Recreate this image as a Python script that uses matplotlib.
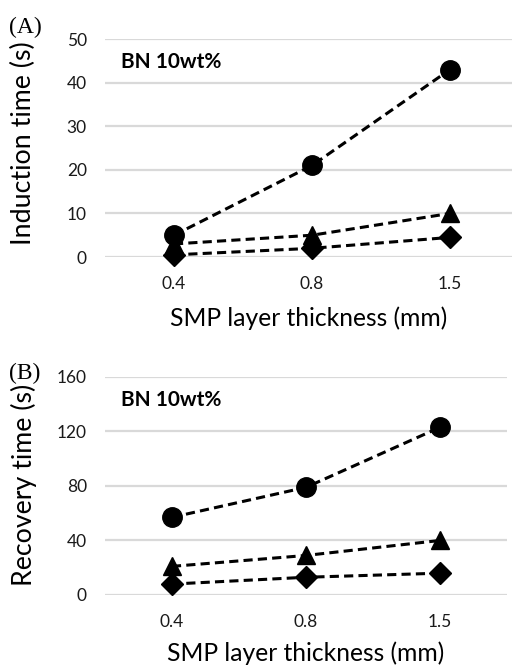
import numpy as np
import matplotlib
matplotlib.use("Agg")
import matplotlib.pyplot as plt

# data
thickness = ["0.4", "0.8", "1.5"]

induction_circle = [5, 21, 43]
induction_triangle = [3, 5, 10]
induction_diamond = [0.5, 2, 4.5]

recovery_circle = [57, 79, 123]
recovery_triangle = [21, 29, 40]
recovery_diamond = [8, 13, 16]

plt.rcParams['font.family'] = ['Lato', 'DejaVu Sans']

fig = plt.figure(figsize=(5.12, 6.65), dpi=100)

def draw_panel(ax, series, yticks, ylabel, ylabel_y, letter, letter_y, xlim, xlabelpad):
    x = np.arange(len(thickness))
    for vals, mk, ms in series:
        ax.plot(x, vals, color='black', lw=2.2, ls=(0, (3.0, 1.7)),
                marker=mk, markersize=ms, clip_on=False, zorder=3)
    ax.set_xlim(*xlim)
    ax.set_ylim(yticks[0], yticks[-1])
    ax.set_yticks(yticks)
    ax.set_xticks(x)
    ax.set_xticklabels(thickness)
    ax.grid(axis='y', color='#d9d9d9', lw=1.6)
    ax.set_axisbelow(True)
    for s in ax.spines.values():
        s.set_visible(False)
    ax.tick_params(length=0, labelsize=12.5, colors='#1a1a1a')
    ax.tick_params(axis='y', pad=13)
    ax.tick_params(axis='x', pad=14)
    ax.set_ylabel(ylabel, fontsize=19.3)
    ax.yaxis.set_label_coords(-0.17, ylabel_y)
    ax.set_xlabel("SMP layer thickness (mm)", fontsize=17.7, labelpad=xlabelpad)
    ax.text(0.04, 0.865, "BN 10wt%", transform=ax.transAxes, fontsize=15,
            fontweight='bold')
    fig.text(0.018, letter_y, letter, family='Liberation Serif',
             fontsize=17, va='center')

ax1 = fig.add_axes([0.205, 0.6135, 0.795, 0.3278])
draw_panel(ax1,
           [(induction_circle, 'o', 14), (induction_triangle, '^', 13),
            (induction_diamond, 'D', 11)],
           [0, 10, 20, 30, 40, 50], "Induction time (s)", 0.523, "(A)", 0.958,
           (-0.5, 2.449), 10)

ax2 = fig.add_axes([0.205, 0.1053, 0.785, 0.3278])
draw_panel(ax2,
           [(recovery_circle, 'o', 14), (recovery_triangle, '^', 13),
            (recovery_diamond, 'D', 11)],
           [0, 40, 80, 120, 160], "Recovery time (s)", 0.505, "(B)", 0.439,
           (-0.5, 2.5), 8)

fig.savefig("out.png", dpi=100)
